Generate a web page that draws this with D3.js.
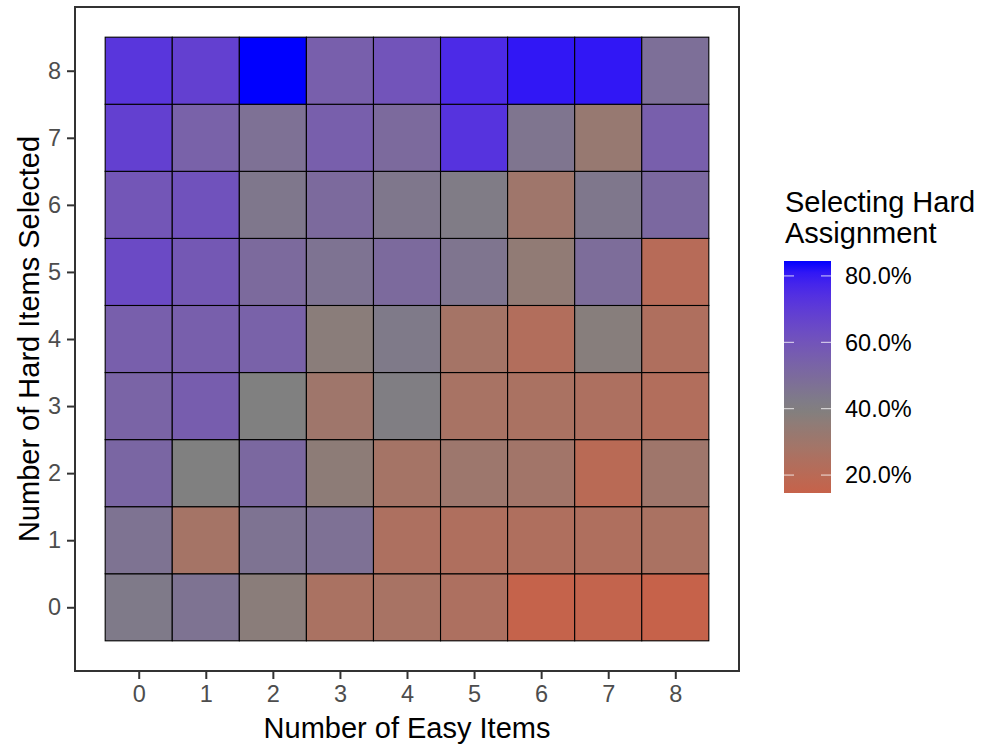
<!DOCTYPE html>
<html>
<head>
<meta charset="utf-8">
<script src="https://cdn.jsdelivr.net/npm/d3@7"></script>
<style>
  body { margin: 0; background: #fff; }
  text { font-family: "Liberation Sans", Arial, Helvetica, sans-serif; }
</style>
</head>
<body>
<div id="chart-area"></div>
<script>
// number of easy / hard items
const easyItems = [0, 1, 2, 3, 4, 5, 6, 7, 8];
const hardItems = [0, 1, 2, 3, 4, 5, 6, 7, 8];

// share selecting the hard assignment, one row per hard count (0..8), columns = easy 0..8
const shareByHard = [
    [0.43, 0.46, 0.37, 0.26, 0.27, 0.25, 0.15, 0.16, 0.146],
    [0.46, 0.28, 0.46, 0.47, 0.25, 0.24, 0.24, 0.24, 0.26],
    [0.52, 0.40, 0.51, 0.36, 0.28, 0.31, 0.29, 0.20, 0.30],
    [0.53, 0.56, 0.40, 0.30, 0.41, 0.27, 0.26, 0.25, 0.23],
    [0.55, 0.55, 0.54, 0.37, 0.43, 0.28, 0.23, 0.38, 0.24],
    [0.64, 0.58, 0.50, 0.46, 0.50, 0.45, 0.35, 0.49, 0.21],
    [0.59, 0.61, 0.44, 0.50, 0.44, 0.42, 0.30, 0.44, 0.51],
    [0.68, 0.54, 0.47, 0.55, 0.50, 0.73, 0.45, 0.33, 0.55],
    [0.72, 0.68, 0.845, 0.55, 0.60, 0.76, 0.81, 0.81, 0.48]
];

const legendTicks = [0.2, 0.4, 0.6, 0.8];

const renderData = () => {
    const w = 982;
    const h = 746;

    const cells = [];
    hardItems.forEach((hd, i) => {
        easyItems.forEach((ez, j) => {
            cells.push({ easy: ez, hard: hd, value: shareByHard[i][j] });
        });
    });

    const minV = d3.min(cells, d => d.value);
    const maxV = d3.max(cells, d => d.value);

    const xScale = d3.scaleLinear()
        .domain([-0.95, 8.95])
        .range([75, 739]);

    const yScale = d3.scaleLinear()
        .domain([-0.95, 8.95])
        .range([671, 7]);

    const color = d3.scaleLinear()
        .domain([minV, 0.40, maxV])
        .range(["#C6624A", "#808080", "#0000FF"])
        .interpolate(d3.interpolateLab);

    const svg = d3.select("#chart-area")
        .append("svg")
        .attr("width", w)
        .attr("height", h);

    // tiles
    svg.selectAll("rect.tile")
        .data(cells)
        .enter()
        .append("rect")
        .attr("class", "tile")
        .attr("x", d => xScale(d.easy - 0.5))
        .attr("y", d => yScale(d.hard + 0.5))
        .attr("width", d => xScale(d.easy + 0.5) - xScale(d.easy - 0.5))
        .attr("height", d => yScale(d.hard - 0.5) - yScale(d.hard + 0.5))
        .attr("fill", d => color(d.value))
        .attr("stroke", "#000")
        .attr("stroke-width", 1.1);

    // panel border
    svg.append("rect")
        .attr("x", 75)
        .attr("y", 7)
        .attr("width", 664)
        .attr("height", 664)
        .attr("fill", "none")
        .attr("stroke", "#333")
        .attr("stroke-width", 2);

    const xAxis = d3.axisBottom(xScale).tickValues(easyItems).tickFormat(d3.format("d")).tickSize(7).tickPadding(6);
    const yAxis = d3.axisLeft(yScale).tickValues(hardItems).tickFormat(d3.format("d")).tickSize(7).tickPadding(6);

    const gx = svg.append("g")
        .attr("transform", "translate(0,672)")
        .attr("id", "x-axis")
        .call(xAxis);
    const gy = svg.append("g")
        .attr("transform", "translate(74,0)")
        .attr("id", "y-axis")
        .call(yAxis);

    [gx, gy].forEach(g => {
        g.select(".domain").remove();
        g.selectAll(".tick line").attr("stroke", "#333").attr("stroke-width", 2);
        g.selectAll(".tick text")
            .attr("fill", "#4D4D4D")
            .style("font-size", "23.5px")
            .style("font-family", "'Liberation Sans', Arial, sans-serif");
    });

    // axis titles
    svg.append("text")
        .attr("x", 407)
        .attr("y", 738)
        .attr("text-anchor", "middle")
        .style("font-size", "29px")
        .text("Number of Easy Items");

    svg.append("text")
        .attr("transform", "translate(39,339) rotate(-90)")
        .attr("text-anchor", "middle")
        .style("font-size", "29px")
        .text("Number of Hard Items Selected");

    // legend
    const legX = 784, legW = 47, legTop = 261, legBottom = 493;
    const legScale = d3.scaleLinear()
        .domain([minV, maxV])
        .range([legBottom, legTop]);

    const defs = svg.append("defs");
    const grad = defs.append("linearGradient")
        .attr("id", "legend-grad")
        .attr("x1", 0).attr("y1", 1).attr("x2", 0).attr("y2", 0);
    d3.range(0, 21).forEach(k => {
        const v = minV + (maxV - minV) * k / 20;
        grad.append("stop")
            .attr("offset", (k / 20 * 100) + "%")
            .attr("stop-color", color(v));
    });

    svg.append("rect")
        .attr("x", legX)
        .attr("y", legTop)
        .attr("width", legW)
        .attr("height", legBottom - legTop)
        .attr("fill", "url(#legend-grad)");

    legendTicks.forEach(t => {
        const y = legScale(t);
        svg.append("line")
            .attr("x1", legX).attr("x2", legX + 10)
            .attr("y1", y).attr("y2", y)
            .attr("stroke", "#fff").attr("stroke-opacity", 0.8).attr("stroke-width", 1);
        svg.append("line")
            .attr("x1", legX + legW - 10).attr("x2", legX + legW)
            .attr("y1", y).attr("y2", y)
            .attr("stroke", "#fff").attr("stroke-opacity", 0.8).attr("stroke-width", 1);
        svg.append("text")
            .attr("x", 845)
            .attr("y", y)
            .attr("dy", "0.35em")
            .style("font-size", "23.5px")
            .attr("fill", "#000")
            .text(d3.format(".1%")(t));
    });

    svg.append("text")
        .attr("x", 785)
        .attr("y", 212)
        .style("font-size", "29px")
        .text("Selecting Hard");
    svg.append("text")
        .attr("x", 785)
        .attr("y", 243)
        .style("font-size", "29px")
        .text("Assignment");
};

renderData();
</script>
</body>
</html>
